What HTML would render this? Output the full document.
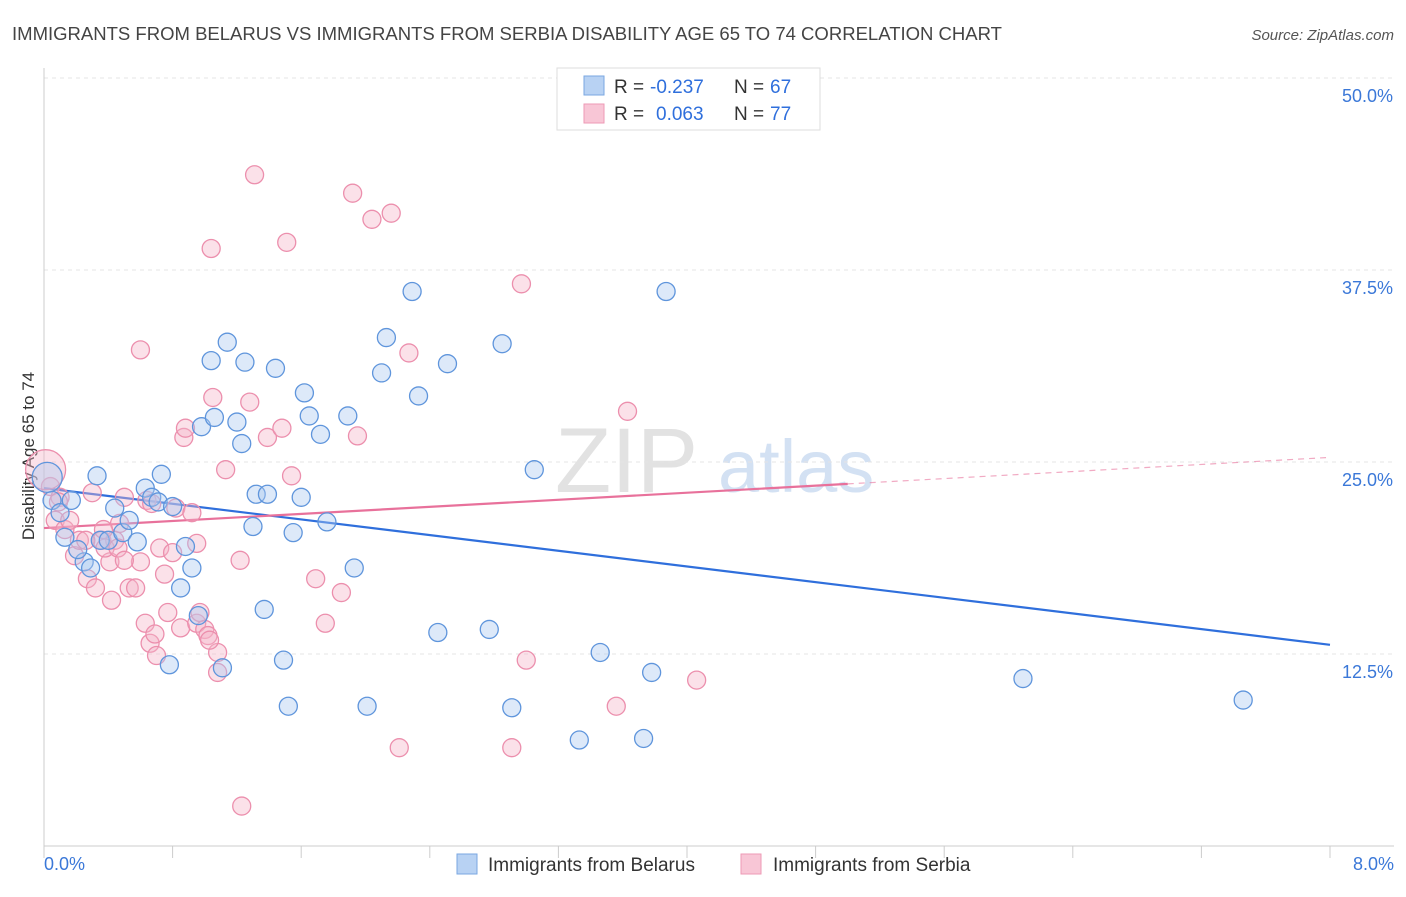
<!DOCTYPE html>
<html><head><meta charset="utf-8"><style>
body{margin:0;background:#fff;font-family:"Liberation Sans",sans-serif;}
svg text{font-family:"Liberation Sans",sans-serif;}
</style></head><body>
<svg id="chart" width="1406" height="892" viewBox="0 0 1406 892" xmlns="http://www.w3.org/2000/svg">
<text x="12" y="40" font-size="18.4" fill="#444" textLength="990" lengthAdjust="spacingAndGlyphs">IMMIGRANTS FROM BELARUS VS IMMIGRANTS FROM SERBIA DISABILITY AGE 65 TO 74 CORRELATION CHART</text>
<text x="1394" y="40" font-size="15" fill="#555" text-anchor="end" font-style="italic">Source: ZipAtlas.com</text>
<text transform="translate(34,456) rotate(-90)" font-size="17" fill="#333" text-anchor="middle">Disability Age 65 to 74</text>
<g><text x="555" y="492" font-size="92" fill="#e2e2e2" font-family="Liberation Serif">ZIP</text><text x="718" y="492" font-size="74" fill="#d3e1f3">atlas</text></g>
<g id="grid"></g><g id="axes"></g><g id="trends"></g><g id="pts"></g>
<g>
<rect x="557" y="68" width="263" height="62" fill="#fff" stroke="#ddd"/>
<rect x="584" y="76" width="20" height="19" fill="#b8d2f3" stroke="#7aa7e2"/>
<text x="614" y="93" font-size="19" fill="#333">R =</text>
<text x="650" y="93" font-size="19" fill="#2f6fdc">-0.237</text>
<text x="734" y="93" font-size="19" fill="#333">N =</text>
<text x="770" y="93" font-size="19" fill="#2f6fdc">67</text>
<rect x="584" y="104" width="20" height="19" fill="#f8c6d6" stroke="#ee9ab5"/>
<text x="614" y="120" font-size="19" fill="#333">R =</text>
<text x="656" y="120" font-size="19" fill="#2f6fdc">0.063</text>
<text x="734" y="120" font-size="19" fill="#333">N =</text>
<text x="770" y="120" font-size="19" fill="#2f6fdc">77</text>
</g>
<g>
<rect x="457" y="854" width="20" height="20" fill="#b8d2f3" stroke="#7aa7e2"/>
<text x="488" y="871" font-size="19" fill="#333">Immigrants from Belarus</text>
<rect x="741" y="854" width="20" height="20" fill="#f8c6d6" stroke="#ee9ab5"/>
<text x="773" y="871" font-size="19" fill="#333">Immigrants from Serbia</text>
</g>
</svg>
<script>
const xTicks=[0,0.8,1.6,2.4,3.2,4,4.8,5.6,6.4,7.2,8];
const yTicks=[12.5,25,37.5,50];
const yTickLabels=["12.5%","25.0%","37.5%","50.0%"];
const xEndLabels=["0.0%","8.0%"];
const belarusX=[0.05,0.10,0.13,0.17,0.25,0.29,0.33,0.21,0.35,0.40,0.44,0.49,0.53,0.58,0.63,0.67,0.71,0.73,0.80,0.85,0.88,0.92,0.96,0.98,1.06,1.04,1.14,1.20,1.23,1.25,1.30,1.32,1.39,1.37,1.44,1.49,1.52,1.55,1.60,1.62,1.65,1.72,1.76,1.89,1.93,2.01,2.10,2.13,2.29,2.33,2.45,2.51,2.77,2.85,2.91,3.05,3.33,3.46,3.73,3.78,3.87,6.09,7.46,0.78,1.11,0.02];
const belarusY=[22.5,21.7,20.1,22.5,18.5,18.1,24.1,19.3,19.9,19.9,22.0,20.4,21.2,19.8,23.3,22.7,22.4,24.2,22.1,16.8,19.5,18.1,15.0,27.3,27.9,31.6,32.8,27.6,26.2,31.5,20.8,22.9,22.9,15.4,31.1,12.1,9.1,20.4,22.7,29.5,28.0,26.8,21.1,28.0,18.1,9.1,30.8,33.1,36.1,29.3,13.9,31.4,14.1,32.7,9.0,24.5,6.9,12.6,7.0,11.3,36.1,10.9,9.5,11.8,11.6,24.0];
const serbiaX=[0.04,0.07,0.10,0.13,0.16,0.19,0.22,0.27,0.30,0.32,0.36,0.41,0.42,0.44,0.47,0.50,0.53,0.57,0.60,0.64,0.60,0.63,0.66,0.69,0.72,0.75,0.77,0.80,0.82,0.85,0.87,0.88,0.92,0.95,0.97,1.00,1.02,1.04,1.05,1.08,1.08,1.13,1.23,1.22,1.28,1.31,1.39,1.48,1.51,1.54,1.69,1.75,1.85,1.92,1.95,2.04,2.16,2.21,2.27,2.91,2.97,3.00,3.56,3.63,4.06,0.09,0.26,0.38,0.46,0.50,0.67,0.70,0.95,1.03,0.37,0.01];
const serbiaY=[23.4,21.2,22.7,20.6,21.2,18.9,19.9,17.4,23.0,16.8,19.9,18.5,16.0,19.9,21.0,22.7,16.8,16.8,18.5,22.5,32.3,14.5,13.2,13.8,19.4,17.7,15.2,19.1,22.0,14.2,26.6,27.2,21.7,14.5,15.2,14.1,13.7,38.9,29.2,12.6,11.3,24.5,2.6,18.6,28.9,43.7,26.6,27.2,39.3,24.1,17.4,14.5,16.5,42.5,26.7,40.8,41.2,6.4,32.1,6.4,36.6,12.1,9.1,28.3,10.8,22.4,19.9,19.4,19.4,18.6,22.3,12.4,19.7,13.4,20.6,24.5];
const belarusTrend=[23.3,13.1];
const serbiaTrend=[20.7,25.3];
const serbiaSolidEnd=5.0;

const NS="http://www.w3.org/2000/svg";
const X0=44,X1=1330,Y0=846,YS=192/12.5;
const sx=v=>X0+(v/8)*(X1-X0);
const sy=v=>Y0-v*YS;
function mk(tag,attrs,parent){const e=document.createElementNS(NS,tag);for(const k in attrs)e.setAttribute(k,attrs[k]);parent.appendChild(e);return e;}
const grid=document.getElementById('grid'),axes=document.getElementById('axes'),trends=document.getElementById('trends'),pts=document.getElementById('pts');
yTicks.forEach((t,i)=>{
 const l=mk('line',{x1:X0,x2:1394,y1:sy(t),y2:sy(t),stroke:'#e4e4e4','stroke-dasharray':'4,4'},grid);
 
 
 const tx=mk('text',{x:1393,y:sy(t)+24,'font-size':18,fill:'#3b78d8','text-anchor':'end'},grid);
 tx.textContent=yTickLabels[i];
 
 
});
const xa=mk('line',{x1:X0,x2:1394,y1:Y0,y2:Y0,stroke:'#ccc'},axes);


const ya=mk('line',{x1:X0,x2:X0,y1:68,y2:Y0,stroke:'#ccc'},axes);


xTicks.forEach(t=>{
 const l=mk('line',{x1:sx(t),x2:sx(t),y1:Y0,y2:Y0+12,stroke:'#ccc'},axes);
 
 
});
[[0,'start',44],[8,'end',1394]].forEach((p,i)=>{
 const tx=mk('text',{x:p[2],y:870,'font-size':18,fill:'#3b78d8','text-anchor':p[1]},axes);
 tx.textContent=xEndLabels[i];
 
 
});
function dot(x,y,r,fill,stroke,name){
 const c=mk('circle',{cx:sx(x),cy:sy(y),r:r,fill:fill,'fill-opacity':0.4,stroke:stroke,'stroke-width':1.3},pts);
 
 
}
serbiaX.forEach((x,i)=>dot(x,serbiaY[i],i===serbiaX.length-1?20:9,'#f5b3c8','#ec8fad','serbia-point'));
belarusX.forEach((x,i)=>dot(x,belarusY[i],i===belarusX.length-1?15:9,'#a9c7ef','#5f95dc','belarus-point'));
const bt=mk('line',{x1:sx(0),y1:sy(belarusTrend[0]),x2:sx(8),y2:sy(belarusTrend[1]),stroke:'#2f6fdc','stroke-width':2.2},trends);


const py=x=>serbiaTrend[0]+(serbiaTrend[1]-serbiaTrend[0])*x/8;
const st=mk('line',{x1:sx(0),y1:sy(py(0)),x2:sx(serbiaSolidEnd),y2:sy(py(serbiaSolidEnd)),stroke:'#e8719b','stroke-width':2.2},trends);


const sd=mk('line',{x1:sx(serbiaSolidEnd),y1:sy(py(serbiaSolidEnd)),x2:sx(8),y2:sy(py(8)),stroke:'#e8719b','stroke-width':1.2,'stroke-dasharray':'6,5','stroke-opacity':0.6},trends);


</script>
</body></html>
